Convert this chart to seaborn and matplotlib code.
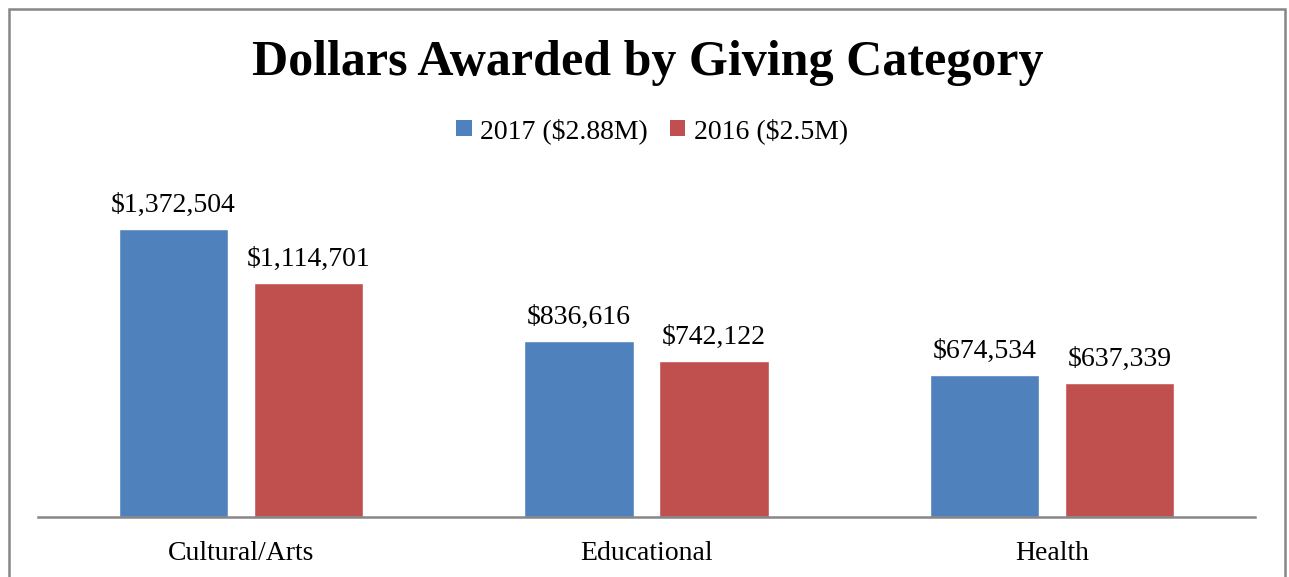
import numpy as np
import pandas as pd
import matplotlib
matplotlib.use("Agg")
import matplotlib.pyplot as plt
import seaborn as sns
from matplotlib.patches import Patch, Rectangle

# data
categories = ["Cultural/Arts", "Educational", "Health"]
series = ["2017 ($2.88M)", "2016 ($2.5M)"]
values_2017 = [1372504, 836616, 674534]
values_2016 = [1114701, 742122, 637339]
colors = ["#4F81BD", "#C0504D"]

df = pd.DataFrame({
    "category": categories * 2,
    "year": [series[0]] * 3 + [series[1]] * 3,
    "value": values_2017 + values_2016,
})

sns.set_style("white")
plt.rcParams["font.family"] = ["Liberation Serif", "DejaVu Serif"]
plt.rcParams["text.color"] = "black"
plt.rcParams["xtick.color"] = "black"

fig = plt.figure(figsize=(12.89, 5.77), dpi=100)
ax = fig.add_axes([38 / 1289, 60 / 577, 1217 / 1289, 337 / 577])

sns.barplot(data=df, x="category", y="value", hue="year", palette=colors,
            width=0.665, gap=0.19, saturation=1, ax=ax, legend=False)

ax.set_ylim(0, 1606000)
ax.set_xlim(-0.5, 2.5)
ax.set_xlabel("")
ax.set_ylabel("")
ax.set_yticks([])
for s in ["left", "right", "top"]:
    ax.spines[s].set_visible(False)
ax.spines["bottom"].set_color("#868686")
ax.spines["bottom"].set_linewidth(1.8)
ax.tick_params(axis="x", length=0, pad=17, labelsize=20, labelcolor="black")

for cont in ax.containers:
    ax.bar_label(cont, fmt=lambda v: f"${v:,.0f}", padding=8, fontsize=20, color="black")

handles = [Patch(facecolor=c, edgecolor="none") for c in colors]
fig.legend(handles, series, loc="center", bbox_to_anchor=(652 / 1289, 1 - 131 / 577),
           ncol=2, frameon=False, fontsize=20, handlelength=0.55, handleheight=0.55,
           handletextpad=0.3, columnspacing=0.8)

fig.text(647.5 / 1289, 1 - 63 / 577, "Dollars Awarded by Giving Category",
         ha="center", va="center", fontsize=36, fontweight="bold", color="black")

# outer chart frame
fig.add_artist(Rectangle((9 / 1289, -0.1), 1276 / 1289, (1 - 9 / 577) + 0.1,
                         transform=fig.transFigure, fill=False,
                         edgecolor="#878787", linewidth=1.8))

fig.savefig("out.png", dpi=100)
